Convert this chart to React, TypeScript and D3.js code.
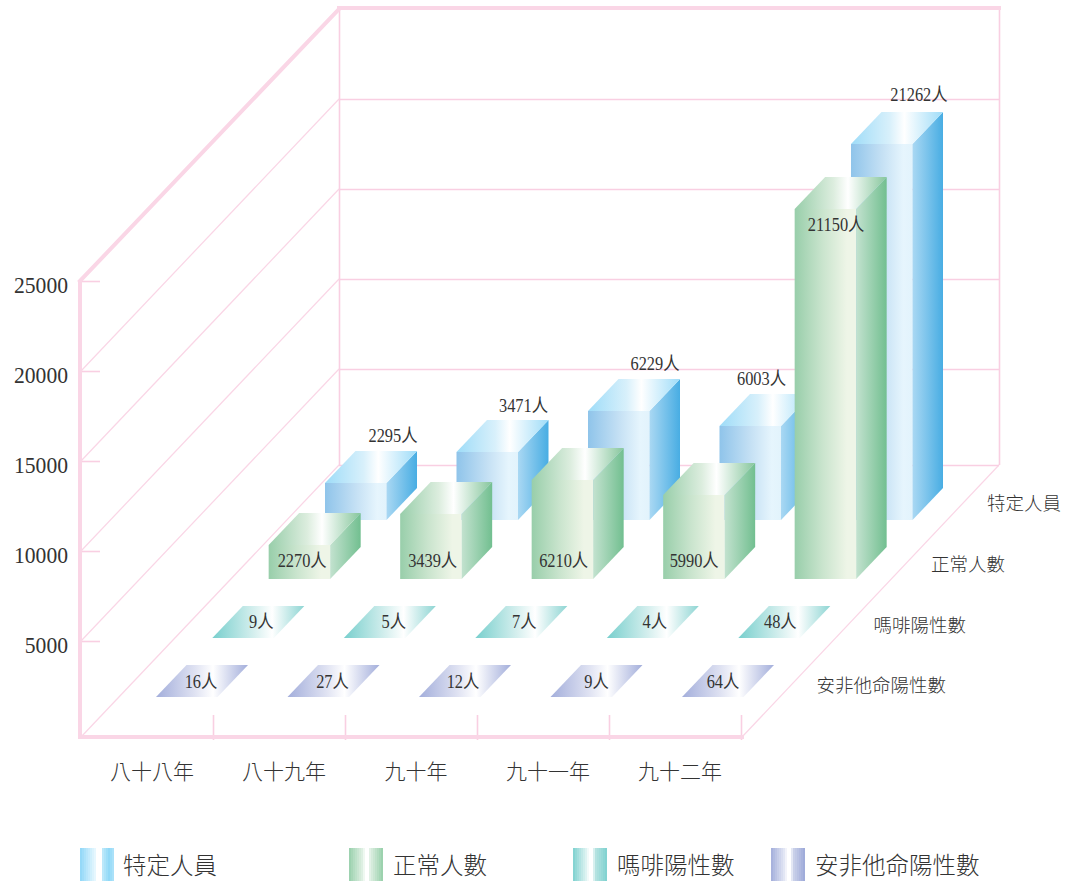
import React from "react";
import * as d3 from "d3";

const years = ["八十八年", "八十九年", "九十年", "九十一年", "九十二年"];
const rows = ["安非他命陽性數", "嗎啡陽性數", "正常人數", "特定人員"];
const legendNames = ["特定人員", "正常人數", "嗎啡陽性數", "安非他命陽性數"];
const yTicks = [5000, 10000, 15000, 20000, 25000];

// Printed labels
const specificLabels = [2295, 3471, 6229, 6003, 21262];
const normalLabels = [2270, 3439, 6210, 5990, 21150];
const morphineLabels = [9, 5, 7, 4, 48];
const amphetamineLabels = [16, 27, 12, 9, 64];

// Heights as actually drawn in the picture, in axis units
const specificDrawn = [2060, 3780, 6060, 5220, 20890];
const normalDrawn = [1890, 3610, 5500, 4670, 20560];

const W = 1068, H = 881;
const PINK = "#fad6e6";
const INK = "#333333";
const FONT = '"Liberation Serif","Noto Sans CJK TC",serif';

const depth = { dx: 258, dy: -272 };
const yFront = d3.scaleLinear().domain([0, 5000, 25000]).range([737, 641, 281]);
const barHeight = d3.scaleLinear().domain([0, 25000]).range([0, 450]);
const yearX = d3.scalePoint<number>().domain(d3.range(5)).range([0, 526]);
const tickX = d3.scalePoint<number>().domain(d3.range(5)).range([213, 741]);
const rowX = d3.scalePoint<string>().domain(rows).range([156, 325]);
const rowY = d3.scalePoint<string>().domain(rows).range([697, 520]);
const BAR_W = 61.5, DX = 30.5, DY = 32;

// fine placement of the value labels, in px
const specificNudge = [0, -1, -1, -26, 0];
const specificNudgeY = [2, 3, 2, 1, 0];
const normalNudge = [0, -1, -1.5, -2.5, 8];
const morphineNudge = [4, 5, 4, 3, -3];
const amphetamineNudge = [1, 1, 0, 2, -3];

const poly = (pts: number[][]) => d3.line()(pts as [number, number][]) + "Z";

type Stop = [number, string];
const grads: Record<string, Stop[]> = {
  blueFront: [[0, "#8fc4ea"], [0.5, "#c4e0f4"], [0.85, "#e6f5fd"], [1, "#e2f3fc"]],
  blueSide: [[0, "#aad8f3"], [1, "#48ade3"]],
  blueTop: [[0, "#9edcf8"], [0.42, "#d8f0fb"], [0.58, "#ffffff"], [1, "#9edcf8"]],
  greenFront: [[0, "#98ceaa"], [0.45, "#c9e4cd"], [0.85, "#eef5e7"], [1, "#eef5e7"]],
  greenSide: [[0, "#c3e2cf"], [1, "#72bf90"]],
  greenTop: [[0, "#98ceaa"], [0.42, "#dcedde"], [0.58, "#ffffff"], [1, "#86c69c"]],
  tealTop: [[0, "#78cfcd"], [0.45, "#d5efee"], [0.65, "#ffffff"], [1, "#8ed5d3"]],
  purpleTop: [[0, "#a3aedb"], [0.42, "#dfe2f2"], [0.62, "#ffffff"], [1, "#a3aedb"]],
};

// Legend swatches are banded in the reference
const bandedStops = (stops: Stop[], bands: number): Stop[] => {
  const colour = d3.scaleLinear<string>().domain(stops.map((s) => s[0])).range(stops.map((s) => s[1]));
  const out: Stop[] = [];
  d3.range(bands).forEach((i) => {
    const c = colour((i + 0.5) / bands);
    out.push([i / bands, c], [(i + 1) / bands, c]);
  });
  return out;
};
const legendGrads: Record<string, Stop[]> = {
  legendBlue: bandedStops([[0, "#8fd7f8"], [0.45, "#e8f8fe"], [0.5, "#ffffff"], [0.62, "#ffffff"], [0.64, "#c4ebfb"], [0.85, "#90d9f7"], [1, "#b0e3f9"]], 17),
  legendGreen: bandedStops([[0, "#98d0ac"], [0.42, "#e4f2e7"], [0.47, "#ffffff"], [0.58, "#ffffff"], [0.62, "#e0f0e4"], [1, "#96cfaa"]], 17),
  legendTeal: bandedStops([[0, "#7ed1cf"], [0.42, "#e6f6f5"], [0.47, "#ffffff"], [0.6, "#ffffff"], [0.63, "#bce5e3"], [1, "#7ed1cf"]], 17),
  legendPurple: bandedStops([[0, "#a3aedb"], [0.42, "#e8ebf6"], [0.47, "#ffffff"], [0.6, "#ffffff"], [0.63, "#d0d6ec"], [1, "#9ca8d8"]], 17),
};

function Box({ x, base, h, kind }: { x: number; base: number; h: number; kind: string }) {
  const t = base - h;
  return (
    <g>
      <path d={poly([[x, t], [x + BAR_W, t], [x + BAR_W, base], [x, base]])} fill={`url(#${kind}Front)`} />
      <path d={poly([[x + BAR_W, t], [x + BAR_W + DX, t - DY], [x + BAR_W + DX, base - DY], [x + BAR_W, base]])} fill={`url(#${kind}Side)`} />
      <path d={poly([[x, t], [x + DX, t - DY], [x + BAR_W + DX, t - DY], [x + BAR_W, t]])} fill={`url(#${kind}Top)`} />
    </g>
  );
}

function Flat({ x, base, kind }: { x: number; base: number; kind: string }) {
  return <path d={poly([[x, base], [x + DX, base - DY], [x + BAR_W + DX, base - DY], [x + BAR_W, base]])} fill={`url(#${kind}Top)`} />;
}

// Digits in the reference are tall and slightly condensed
function Label({ x, y, n }: { x: number; y: number; n: number }) {
  return (
    <text transform={`translate(${x},${y}) scale(0.91,1)`} textAnchor="middle" fontSize={18} fill={INK}>{n}人</text>
  );
}

export default function App() {
  const legend = [
    { x: 80, tx: 123, g: "legendBlue" },
    { x: 349, tx: 393, g: "legendGreen" },
    { x: 573, tx: 617, g: "legendTeal" },
    { x: 771, tx: 815, g: "legendPurple" },
  ];
  const rowLabelRight = [946, 966, 1005, 1061];
  const rowLabelBase = [692, 632, 571, 510];
  const allGrads = { ...grads, ...legendGrads };
  return (
    <svg width={W} height={H} viewBox={`0 0 ${W} ${H}`} style={{ position: "absolute", left: 0, top: 0 }} fontFamily={FONT}>
      <defs>
        {Object.entries(allGrads).map(([id, stops]) => (
          <linearGradient key={id} id={id} x1="0" x2="1" y1="0" y2="0">
            {stops.map(([o, c], i) => <stop key={i} offset={o} stopColor={c} />)}
          </linearGradient>
        ))}
      </defs>

      {/* walls */}
      <g stroke={PINK} strokeWidth={1.25} fill="none">
        {[0, 5000, 10000, 15000, 20000].map((v) => (
          <line key={v} x1={81} y1={yFront(v)} x2={81 + depth.dx} y2={yFront(v) + depth.dy} />
        ))}
        <line x1={742} y1={737} x2={999} y2={465} />
      </g>
      <g stroke="#f9cfe2" strokeWidth={1.6} fill="none">
        {[0, 5000, 10000, 15000, 20000].map((v) => (
          <line key={v} x1={339} y1={yFront(v) + depth.dy + 0.5} x2={999} y2={yFront(v) + depth.dy + 0.5} />
        ))}
        {yTicks.map((v) => <line key={v} x1={81} x2={100} y1={yFront(v) + 0.5} y2={yFront(v) + 0.5} />)}
        <line x1={339.5} x2={339.5} y1={9} y2={465} />
        <line x1={999.5} x2={999.5} y1={9} y2={465} />
        {d3.range(5).map((i) => (
          <line key={i} x1={tickX(i)! + 0.5} x2={tickX(i)! + 0.5} y1={715} y2={740} />
        ))}
      </g>
      <g stroke={PINK} fill="none" strokeLinecap="square">
        <line x1={80} y1={282} x2={80} y2={737} strokeWidth={4} />
        <line x1={80} y1={737} x2={742} y2={737} strokeWidth={4} />
        <line x1={80} y1={281} x2={339} y2={9} strokeWidth={4} />
        <line x1={339} y1={8} x2={999} y2={8} strokeWidth={4} />
      </g>

      {/* y axis labels */}
      {yTicks.map((v) => (
        <text key={v} transform={`translate(68,${yFront(v) + 12}) scale(0.94,1)`} textAnchor="end" fontSize={23} fill={INK}>{v}</text>
      ))}

      {/* specific */}
      {specificDrawn.map((v, i) => (
        <Box key={i} x={rowX(rows[3])! + yearX(i)!} base={rowY(rows[3])!} h={barHeight(v)} kind="blue" />
      ))}
      {/* normal */}
      {normalDrawn.map((v, i) => (
        <Box key={i} x={rowX(rows[2])! + yearX(i)!} base={rowY(rows[2])!} h={barHeight(v)} kind="green" />
      ))}
      {/* morphine */}
      {morphineLabels.map((_, i) => (
        <Flat key={i} x={rowX(rows[1])! + yearX(i)!} base={rowY(rows[1])!} kind="teal" />
      ))}
      {/* amphetamine */}
      {amphetamineLabels.map((_, i) => (
        <Flat key={i} x={rowX(rows[0])! + yearX(i)!} base={rowY(rows[0])!} kind="purple" />
      ))}

      {/* value labels */}
      {specificLabels.map((n, i) => (
        <Label key={i} x={rowX(rows[3])! + yearX(i)! + 68 + specificNudge[i]} y={rowY(rows[3])! - barHeight(specificDrawn[i]) - 42.5 + specificNudgeY[i]} n={n} />
      ))}
      {normalLabels.map((n, i) => {
        const top = rowY(rows[2])! - barHeight(normalDrawn[i]);
        const y = i === 4 ? top + 22 : rowY(rows[2])! - 12;
        return <Label key={i} x={rowX(rows[2])! + yearX(i)! + 33.5 + normalNudge[i]} y={y} n={n} />;
      })}
      {morphineLabels.map((n, i) => (
        <Label key={i} x={rowX(rows[1])! + yearX(i)! + 45 + morphineNudge[i]} y={rowY(rows[1])! - 10} n={n} />
      ))}
      {amphetamineLabels.map((n, i) => (
        <Label key={i} x={rowX(rows[0])! + yearX(i)! + 44 + amphetamineNudge[i]} y={rowY(rows[0])! - 9} n={n} />
      ))}

      {/* year labels */}
      {years.map((y, i) => (
        <text key={y} x={tickX(i)! - 61} y={779} textAnchor="middle" fontSize={21} fill={INK} fontWeight={300}>{y}</text>
      ))}
      {/* row labels */}
      {rows.map((r, i) => (
        <text key={r} x={rowLabelRight[i]} y={rowLabelBase[i]} textAnchor="end" fontSize={18.5} fill={INK} fontWeight={300}>{r}</text>
      ))}

      {/* legend */}
      {legendNames.map((n, i) => (
        <g key={n}>
          <rect x={legend[i].x} y={848} width={34} height={33} fill={`url(#${legend[i].g})`} />
          <text x={legend[i].tx} y={874} fontSize={23.5} fill={INK} fontWeight={300}>{n}</text>
        </g>
      ))}
    </svg>
  );
}
